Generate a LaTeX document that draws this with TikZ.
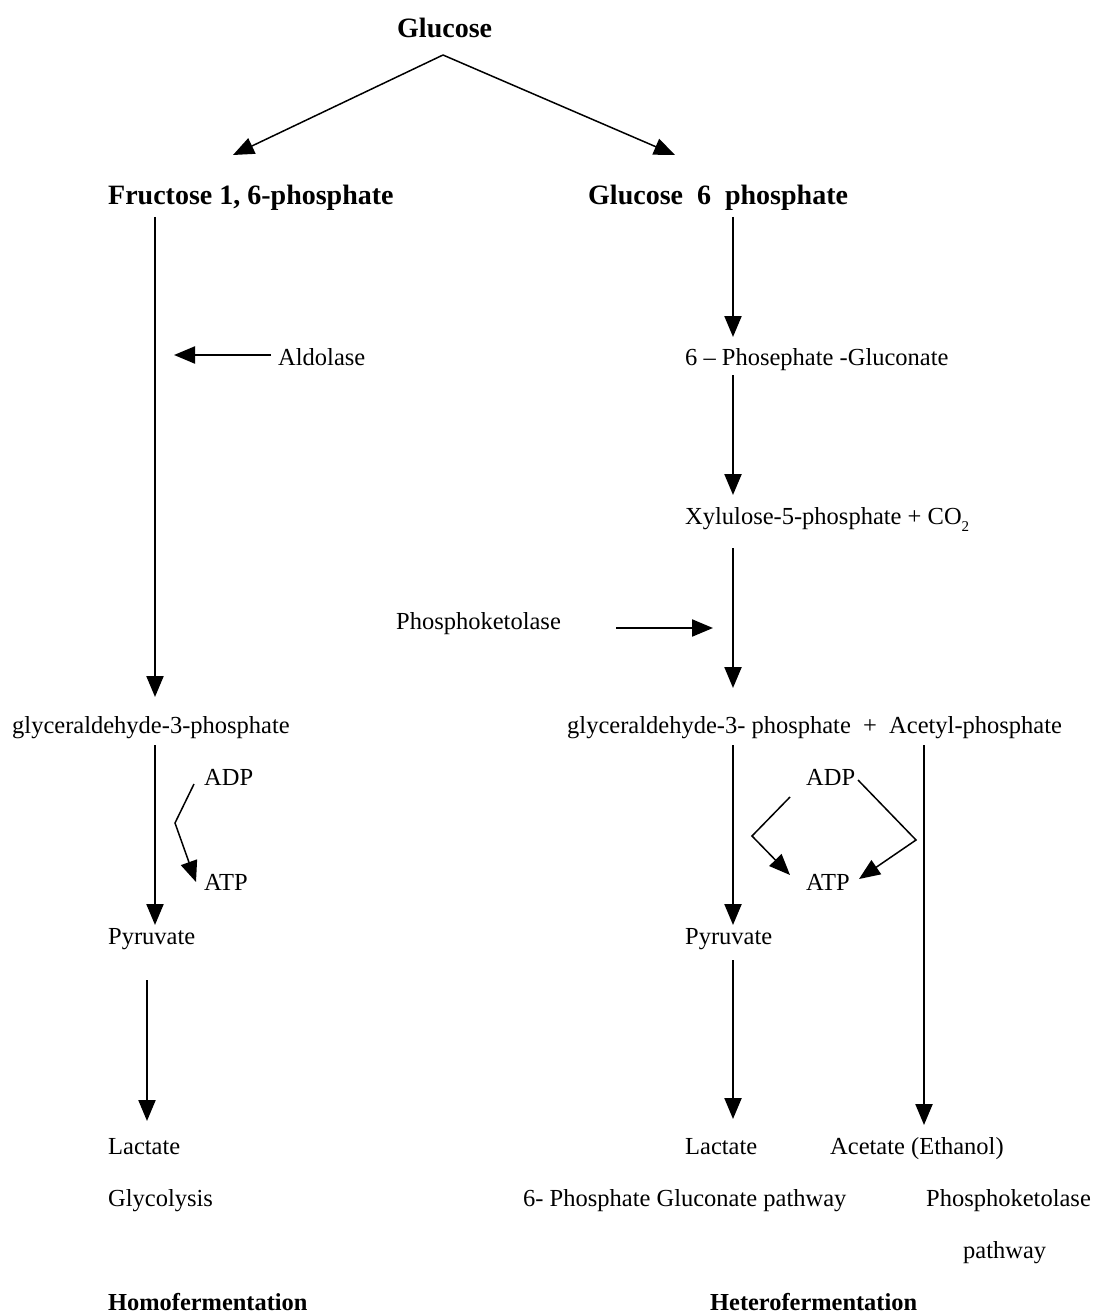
\documentclass[tikz,border=0pt]{standalone}
\usepackage{fontspec}
\setmainfont{Liberation Serif}
\usetikzlibrary{arrows.meta}
\begin{document}
\begin{tikzpicture}[x=1pt,y=-1pt,
  lbl/.style={anchor=base west,inner sep=0pt,font=\fontsize{24.5}{29}\selectfont},
  hd/.style={anchor=base west,inner sep=0pt,font=\fontsize{28}{33}\selectfont\bfseries},
  ft/.style={anchor=base west,inner sep=0pt,font=\fontsize{24.4}{29}\selectfont\bfseries},
  arr/.style={line width=2.2pt,-{Triangle[length=21pt,width=17pt]}},
  thin/.style={line width=1.5pt,-{Triangle[length=21pt,width=17pt]}}]
\useasboundingbox[fill=white] (0,0) rectangle (1096,1313);
% nodes
\node[hd] (glc) at (397,38) {Glucose};
\node[hd] (fru) at (108,205) {Fructose 1, 6-phosphate};
\node[hd] (g6p) at (588,205) {Glucose\ \ 6\ \ phosphate};
\node[lbl] (ald) at (278,365) {Aldolase};
\node[lbl] (pg) at (685,365) {6 -- Phosephate -Gluconate};
\node[lbl] (xyl) at (685,524) {Xylulose-5-phosphate + CO\raisebox{-0.3em}{\fontsize{15}{15}\selectfont 2}};
\node[lbl] (pk) at (396,629) {Phosphoketolase};
\node[lbl] (gapl) at (12,733) {glyceraldehyde-3-phosphate};
\node[lbl] (gapr) at (567,733) {glyceraldehyde-3- phosphate\ \ +\ \ Acetyl-phosphate};
\node[lbl] (adpl) at (204,785) {ADP};
\node[lbl] (atpl) at (204,890) {ATP};
\node[lbl] (pyrl) at (108,944) {Pyruvate};
\node[lbl] (adpr) at (806,785) {ADP};
\node[lbl] (atpr) at (806,890) {ATP};
\node[lbl] (pyrr) at (685,944) {Pyruvate};
\node[lbl] (lacl) at (108,1154) {Lactate};
\node[lbl] (glyc) at (108,1206) {Glycolysis};
\node[lbl] (lacr) at (685,1154) {Lactate};
\node[lbl] (acet) at (830,1154) {Acetate (Ethanol)};
\node[lbl] (pgp) at (523,1206) {6- Phosphate Gluconate pathway};
\node[lbl] (pkp) at (926,1206) {Phosphoketolase};
\node[lbl] (pkp2) at (963,1258) {pathway};
\node[ft] (homo) at (108,1310) {Homofermentation};
\node[ft] (hetero) at (710,1310) {Heterofermentation};
% connector end points
\coordinate (apex) at (443,55);
\coordinate (tl) at (233,155);
\coordinate (tr) at (675,155);
\coordinate (l1s) at (155,217); \coordinate (l1e) at (155,697);
\coordinate (alds) at (271,355); \coordinate (alde) at (174,355);
\coordinate (r1s) at (733,217); \coordinate (r1e) at (733,337);
\coordinate (r2s) at (733,375); \coordinate (r2e) at (733,495);
\coordinate (r3s) at (733,548); \coordinate (r3e) at (733,688);
\coordinate (pks) at (616,628); \coordinate (pke) at (713,628);
\coordinate (l2s) at (155,745); \coordinate (l2e) at (155,925);
\coordinate (la1) at (194,784); \coordinate (la2) at (175,823); \coordinate (la3) at (196,882);
\coordinate (l3s) at (147,980); \coordinate (l3e) at (147,1121);
\coordinate (r4s) at (733,745); \coordinate (r4e) at (733,925);
\coordinate (r5s) at (733,960); \coordinate (r5e) at (733,1119);
\coordinate (r6s) at (924,745); \coordinate (r6e) at (924,1125);
\coordinate (ra1) at (790,797); \coordinate (ra2) at (752,836); \coordinate (ra3) at (790,875);
\coordinate (rb1) at (858,780); \coordinate (rb2) at (916,840); \coordinate (rb3) at (859,879);
% connectors
\draw[thin] (apex) -- (tl);
\draw[thin] (apex) -- (tr);
\draw[arr] (l1s) -- (l1e);
\draw[arr] (alds) -- (alde);
\draw[arr] (r1s) -- (r1e);
\draw[arr] (r2s) -- (r2e);
\draw[arr] (r3s) -- (r3e);
\draw[arr] (pks) -- (pke);
\draw[arr] (l2s) -- (l2e);
\draw[thin] (la1) -- (la2) -- (la3);
\draw[arr] (l3s) -- (l3e);
\draw[arr] (r4s) -- (r4e);
\draw[arr] (r5s) -- (r5e);
\draw[arr] (r6s) -- (r6e);
\draw[thin] (ra1) -- (ra2) -- (ra3);
\draw[thin] (rb1) -- (rb2) -- (rb3);
\end{tikzpicture}
\end{document}
